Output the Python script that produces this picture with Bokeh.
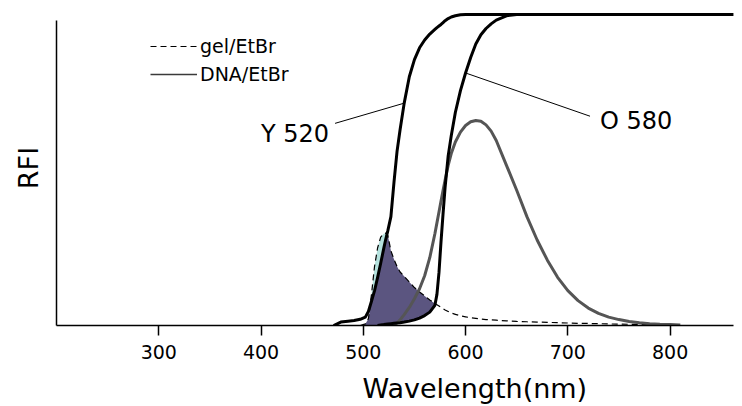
import numpy as np
from bokeh.plotting import figure
from bokeh.models import Range1d, FixedTicker, Label, Legend, LegendItem, Title
from bokeh.embed import file_html
from bokeh.resources import INLINE

# ---------------- data ----------------
wavelength = [471, 478, 485, 491, 497, 502, 505, 508, 511, 514, 517, 520, 522, 524, 527,
              530, 533, 536, 540, 545, 550, 555, 560, 565, 570, 572, 574, 576, 578, 580,
              583, 586, 590, 595, 600, 605, 610, 615, 620, 625, 630, 640, 650, 660, 670,
              680, 690, 700, 710, 720, 730, 740, 750, 760, 770, 780, 790, 800, 810, 862]

filter_y520 = [0.000, 0.011, 0.014, 0.016, 0.020, 0.027, 0.045, 0.078, 0.112, 0.155, 0.200,
               0.248, 0.278, 0.305, 0.350, 0.460, 0.560, 0.630, 0.715, 0.800, 0.855, 0.893,
               0.918, 0.937, 0.952, 0.958, 0.963, 0.968, 0.974, 0.980, 0.987, 0.992, 0.996,
               0.999, 1.0, 1.0, 1.0, 1.0, 1.0, 1.0, 1.0, 1.0, 1.0, 1.0, 1.0, 1.0, 1.0, 1.0,
               1.0, 1.0, 1.0, 1.0, 1.0, 1.0, 1.0, 1.0, 1.0, 1.0, 1.0, 1.0]

filter_o580 = [None, None, None, None, None, None, None, None, None,
               0.000, 0.002, 0.003, 0.004, 0.005, 0.006, 0.007, 0.008, 0.009, 0.011, 0.014,
               0.018, 0.024, 0.032, 0.043, 0.065, 0.100, 0.170, 0.270, 0.360, 0.445, 0.545,
               0.610, 0.685, 0.755, 0.812, 0.862, 0.905, 0.935, 0.955, 0.970, 0.982, 0.996,
               1.0, 1.0, 1.0, 1.0, 1.0, 1.0, 1.0, 1.0, 1.0, 1.0, 1.0, 1.0, 1.0, 1.0, 1.0,
               1.0, 1.0, 1.0]

gel_etbr = [None, None, None, None,
            0.000, 0.005, 0.022, 0.100, 0.190, 0.250, 0.284, 0.295, 0.297, 0.290, 0.240,
            0.213, 0.190, 0.172, 0.158, 0.140, 0.122, 0.108, 0.095, 0.082, 0.071, 0.067,
            0.063, 0.058, 0.054, 0.050, 0.045, 0.040, 0.036, 0.031, 0.028, 0.025, 0.023,
            0.021, 0.019, 0.018, 0.017, 0.015, 0.013, 0.012, 0.011, 0.010, 0.009, 0.008,
            0.007, 0.0065, 0.006, 0.005, 0.0045, 0.004, 0.0035, 0.003, 0.0025, 0.002,
            None, None]

dna_etbr = [None, None, None, None, None, None, None, None, None, None, None, None, None, None,
            0.000, 0.003, 0.008, 0.018, 0.035, 0.058, 0.086, 0.118, 0.160, 0.218, 0.295,
            0.330, 0.365, 0.400, 0.435, 0.468, 0.515, 0.553, 0.590, 0.622, 0.643, 0.655,
            0.659, 0.657, 0.645, 0.625, 0.595, 0.515, 0.435, 0.350, 0.275, 0.210, 0.155,
            0.112, 0.080, 0.056, 0.039, 0.027, 0.019, 0.013, 0.009, 0.006, 0.004, 0.003,
            0.002, None]

x_ticks = [300, 400, 500, 600, 700, 800]

wl = np.array(wavelength, dtype=float)
ty = np.array(filter_y520, dtype=float)
to = np.array(filter_o580, dtype=float)
gel = np.array(gel_etbr, dtype=float)
dna = np.array(dna_etbr, dtype=float)

FONT = "DejaVu Sans"

p = figure(frame_width=677, frame_height=315,
           x_range=Range1d(200, 862), y_range=Range1d(0, 1.0129),
           output_backend="svg", toolbar_location=None,
           min_border_left=56, min_border_right=9, min_border_top=10, min_border_bottom=81,
           background_fill_color="white", border_fill_color="white")
p.outline_line_color = None
p.xgrid.grid_line_color = None
p.ygrid.grid_line_color = None

# axes
p.xaxis.ticker = FixedTicker(ticks=x_ticks)
p.xaxis.bounds = (200, 862)
p.xaxis.minor_tick_line_color = None
p.xaxis.major_tick_in = 0
p.xaxis.major_tick_out = 10
p.xaxis.major_tick_line_width = 1.5
p.xaxis.axis_line_width = 1.5
p.xaxis.major_label_text_font = FONT
p.xaxis.major_label_text_font_size = "19px"
p.xaxis.major_label_text_color = "black"
p.xaxis.major_label_standoff = 9

p.yaxis.ticker = FixedTicker(ticks=[])
p.yaxis.bounds = (0, 0.981)
p.yaxis.minor_tick_line_color = None
p.yaxis.major_tick_line_color = None
p.yaxis.axis_line_width = 1.5
p.yaxis.axis_label = "RFI"
p.yaxis.axis_label_text_font = FONT
p.yaxis.axis_label_text_font_size = "27px"
p.yaxis.axis_label_text_font_style = "normal"
p.yaxis.axis_label_text_color = "black"
p.yaxis.axis_label_standoff = 13

# x-axis title (placed right of centre like the reference)
title_kw = dict(text="Wavelength(nm)", align="left", offset=306,
                text_font=FONT, text_font_size="27px", text_font_style="normal",
                text_color="black")
try:
    x_title = Title(standoff=0, padding=dict(top=9, bottom=0, left=0, right=0), **title_kw)
except Exception:
    x_title = Title(standoff=8, **title_kw)
p.add_layout(x_title, "below")

# fills
m = ~np.isnan(gel)
low_o = np.nan_to_num(to, nan=0.0)
purple_top = np.maximum(np.minimum(gel, ty), low_o)
cyan_top = np.maximum(gel, ty)
p.varea(x=wl[m], y1=ty[m], y2=cyan_top[m], fill_color="#b5e2de")
p.varea(x=wl[m], y1=low_o[m], y2=purple_top[m], fill_color="#5b5580")

# curves
r_gel = p.line(wl[m], gel[m], line_color="black", line_width=1.2, line_dash="6 4")
md = ~np.isnan(dna)
p.line(wl[md], dna[md], line_color="#555555", line_width=3, line_join="round")
p.line(wl, ty, line_color="black", line_width=3, line_join="round")
mo = ~np.isnan(to)
p.line(wl[mo], to[mo], line_color="black", line_width=3, line_join="round")

# thin, hidden copy of the DNA curve used only for the legend sample
r_dna_leg = p.line(wl[md], dna[md], line_color="#3a3a3a", line_width=1.5, visible=False)

# leader lines to the filter curves
iy = wavelength.index(540)
io = wavelength.index(600)
p.line([472.4, wl[iy]], [0.650, ty[iy]], line_color="black", line_width=1)
p.line([721.7, wl[io]], [0.673, to[io]], line_color="black", line_width=1)

p.add_layout(Label(x=433.3, y=0.617, text="Y 520", text_font=FONT, text_font_size="24px",
                   text_align="center", text_baseline="middle", text_color="black"))
p.add_layout(Label(x=766.7, y=0.656, text="O 580", text_font=FONT, text_font_size="24px",
                   text_align="center", text_baseline="middle", text_color="black"))

legend = Legend(items=[LegendItem(label="gel/EtBr", renderers=[r_gel]),
                       LegendItem(label="DNA/EtBr", renderers=[r_dna_leg])],
                location=(94, 240), glyph_width=47, glyph_height=22, label_height=22,
                label_standoff=3, spacing=6, padding=0, margin=0,
                label_text_font=FONT, label_text_font_size="19px", label_text_color="black",
                inactive_fill_alpha=0,
                background_fill_alpha=0, border_line_alpha=0)
p.add_layout(legend)

open("out.html", "w").write(file_html(p, INLINE))
